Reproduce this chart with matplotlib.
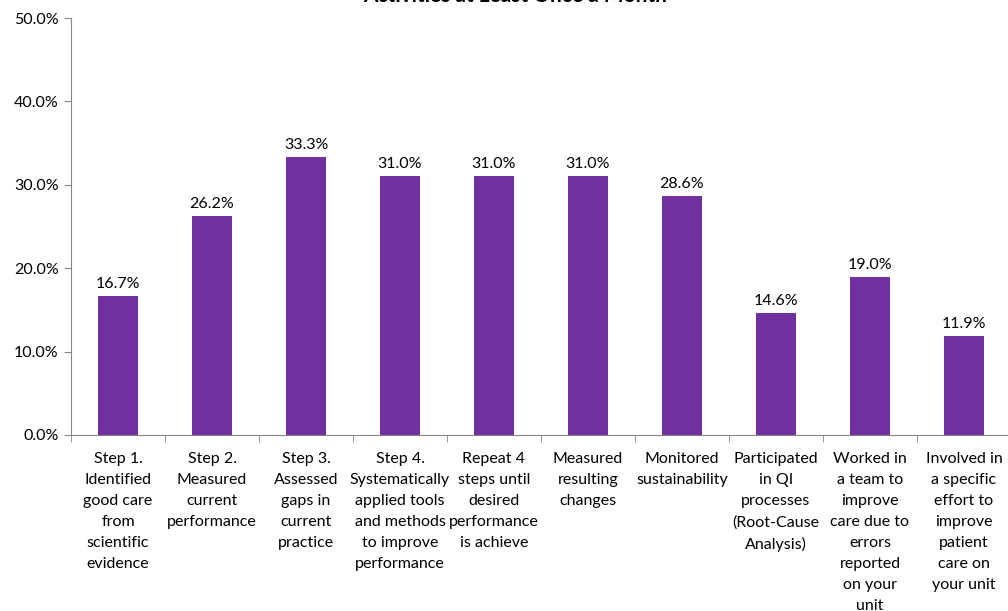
import numpy as np
import matplotlib
matplotlib.use("Agg")
import matplotlib.pyplot as plt
from matplotlib.ticker import FuncFormatter, MultipleLocator

plt.rcParams['font.family'] = ['Lato', 'DejaVu Sans']

categories = [
    "Step 1.\nIdentified\ngood care\nfrom\nscientific\nevidence",
    "Step 2.\nMeasured\ncurrent\nperformance",
    "Step 3.\nAssessed\ngaps in\ncurrent\npractice",
    "Step 4.\nSystematically\napplied tools\nand methods\nto improve\nperformance",
    "Repeat 4\nsteps until\ndesired\nperformance\nis achieve",
    "Measured\nresulting\nchanges",
    "Monitored\nsustainability",
    "Participated\nin QI\nprocesses\n(Root-Cause\nAnalysis)",
    "Worked in\na team to\nimprove\ncare due to\nerrors\nreported\non your\nunit",
    "Involved in\na specific\neffort to\nimprove\npatient\ncare on\nyour unit",
]
values = [16.7, 26.2, 33.3, 31.0, 31.0, 31.0, 28.6, 14.6, 19.0, 11.9]

W, H = 1008, 611
fig = plt.figure(figsize=(W / 100, H / 100), dpi=100)
ax = fig.add_axes([71 / W, 1 - 435 / H, 940 / W, (435 - 18) / H])

x = np.arange(len(values))
ax.bar(x, values, width=0.42, color="#7030A0")
for xi, v in zip(x, values):
    ax.text(xi, v + 0.6, f"{v:.1f}%", ha="center", va="bottom", fontsize=11.5)

ax.set_xlim(-0.5, len(values) - 0.5)
ax.set_ylim(0, 50)
ax.yaxis.set_major_locator(MultipleLocator(10))
ax.yaxis.set_major_formatter(FuncFormatter(lambda v, p: f"{v:.1f}%"))

ax.set_xticks(x)
ax.set_xticklabels(categories, fontsize=11.5, linespacing=1.64)
ax.set_xticks(np.arange(-0.5, len(values), 1), minor=True)
ax.tick_params(axis="x", which="major", length=0, pad=12)
ax.tick_params(axis="x", which="minor", length=5, color="#868686", direction="out")
ax.tick_params(axis="y", length=5, color="#868686", labelsize=11.5, pad=4)

for s in ["top", "right"]:
    ax.spines[s].set_visible(False)
for s in ["left", "bottom"]:
    ax.spines[s].set_color("#868686")

fig.text(515 / W, 1 - 2.5 / H, "Activities at Least Once a Month", ha="center",
         va="baseline", fontsize=15, fontweight="bold")

fig.savefig("out.png", dpi=100)
